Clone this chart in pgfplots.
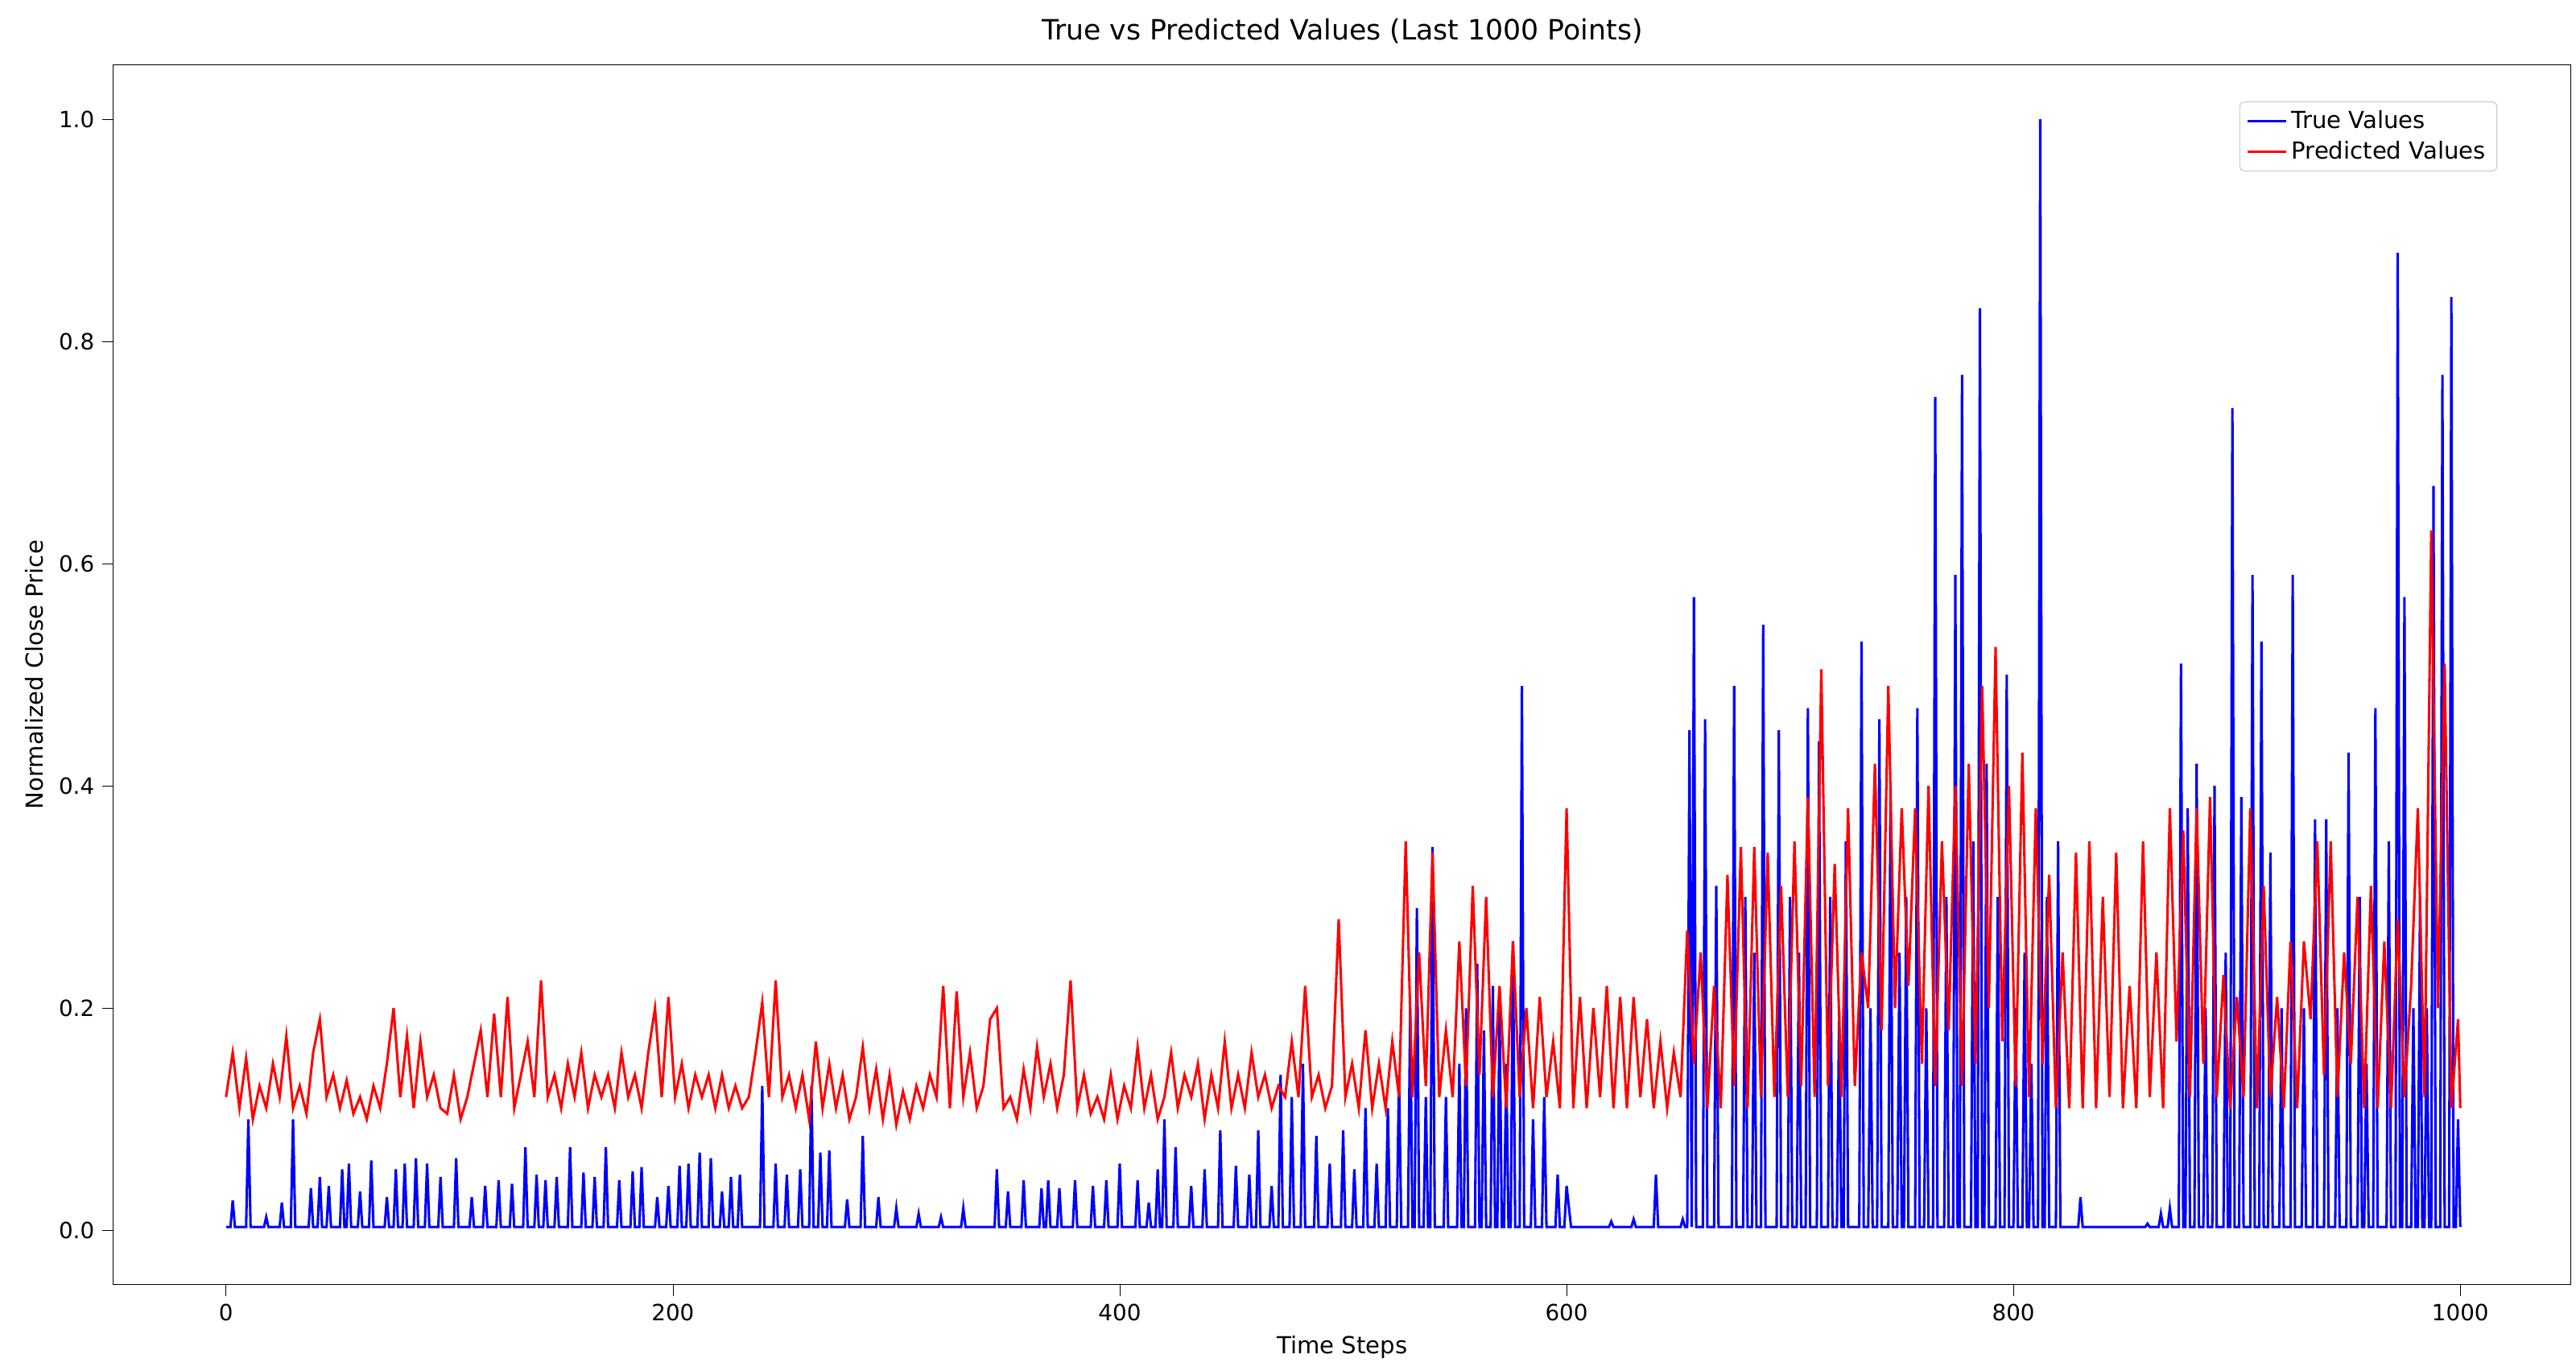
\documentclass[border={8pt 2pt 2pt 5pt}]{standalone}
\usepackage{pgfplots}
\pgfplotsset{compat=1.18}
\usepackage{fontspec}
\setmainfont{DejaVu Sans}
\begin{document}
\begin{tikzpicture}
\begin{axis}[
 width=1100pt, height=546pt, scale only axis,
 xmin=-50.4, xmax=1049.6, ymin=-0.049, ymax=1.049,
 xtick={0,200,400,600,800,1000},
 ytick={0,0.2,0.4,0.6,0.8,1.0},
 xticklabel style={/pgf/number format/1000 sep={}},
 yticklabel style={/pgf/number format/.cd,fixed,fixed zerofill,precision=1},
 /pgf/number format/assume math mode=true,
 tick align=outside, tick style={black}, major tick length=5pt,
 xtick pos=bottom, ytick pos=left,
 ticklabel style={font=\fontsize{10}{12}\selectfont},
 title={True vs Predicted Values (Last 1000 Points)},
 title style={font=\fontsize{12.5}{14}\selectfont},
 xlabel={Time Steps}, ylabel={Normalized Close Price},
 label style={font=\fontsize{10.5}{12}\selectfont},
 legend pos=north east,
 legend style={font=\fontsize{10.5}{12}\selectfont, draw=black!20, rounded corners=2pt},
 legend cell align=left,
]
\addplot[blue, line width=1.1pt] coordinates {
(0,.003)
(2,.003)(3,.027)(4,.003)(9,.003)(10,.10)(11,.003)(17,.003)(18,.012)(19,.003)(24,.003)(25,.025)(26,.003)
(29,.003)(30,.10)(31,.003)(37,.003)(38,.038)(39,.003)(41,.003)(42,.048)(43,.003)(45,.003)(46,.04)(47,.003)
(51,.003)(52,.055)(53,.003)(54,.003)(55,.06)(56,.003)(59,.003)(60,.035)(61,.003)(64,.003)(65,.063)(66,.003)
(71,.003)(72,.03)(73,.003)(75,.003)(76,.055)(77,.003)(79,.003)(80,.06)(81,.003)(84,.003)(85,.065)(86,.003)
(89,.003)(90,.06)(91,.003)(95,.003)(96,.048)(97,.003)(102,.003)(103,.065)(104,.003)(109,.003)(110,.03)(111,.003)
(115,.003)(116,.04)(117,.003)(121,.003)(122,.045)(123,.003)(127,.003)(128,.042)(129,.003)(133,.003)(134,.075)(135,.003)
(138,.003)(139,.05)(140,.003)(142,.003)(143,.045)(144,.003)(147,.003)(148,.048)(149,.003)(153,.003)(154,.075)(155,.003)
(159,.003)(160,.052)(161,.003)(164,.003)(165,.048)(166,.003)(169,.003)(170,.075)(171,.003)(175,.003)(176,.045)(177,.003)
(181,.003)(182,.053)(183,.003)(185,.003)(186,.057)(187,.003)(192,.003)(193,.03)(194,.003)(197,.003)(198,.04)(199,.003)
(202,.003)(203,.058)(204,.003)(206,.003)(207,.06)(208,.003)(211,.003)(212,.07)(213,.003)(216,.003)(217,.065)(218,.003)
(221,.003)(222,.035)(223,.003)(225,.003)(226,.048)(227,.003)(229,.003)(230,.05)(231,.003)(239,.003)(240,.13)(241,.003)
(245,.003)(246,.06)(247,.003)(250,.003)(251,.05)(252,.003)(256,.003)(257,.055)(258,.003)(261,.003)(262,.13)(263,.003)
(265,.003)(266,.07)(267,.003)(269,.003)(270,.072)(271,.003)(277,.003)(278,.028)(279,.003)(284,.003)(285,.085)(286,.003)
(291,.003)(292,.03)(293,.003)(299,.003)(300,.02)(301,.003)(309,.003)(310,.015)(311,.003)(319,.003)(320,.012)(321,.003)
(329,.003)(330,.02)(331,.003)(344,.003)(345,.055)(346,.003)(349,.003)(350,.035)(351,.003)(356,.003)(357,.045)(358,.003)
(364,.003)(365,.038)(366,.003)(367,.003)(368,.045)(369,.003)(372,.003)(373,.038)(374,.003)(379,.003)(380,.045)(381,.003)
(387,.003)(388,.04)(389,.003)(393,.003)(394,.045)(395,.003)(399,.003)(400,.06)(401,.003)(407,.003)(408,.045)(409,.003)
(412,.003)(413,.025)(414,.003)(416,.003)(417,.055)(418,.003)(419,.003)(420,.10)(421,.003)(424,.003)(425,.075)(426,.003)
(431,.003)(432,.04)(433,.003)(437,.003)(438,.055)(439,.003)(444,.003)(445,.09)(446,.003)(451,.003)(452,.058)(453,.003)
(457,.003)(458,.05)(459,.003)(461,.003)(462,.09)(463,.003)(467,.003)(468,.04)(469,.003)(471,.003)(472,.14)(473,.003)
(476,.003)(477,.12)(478,.003)(481,.003)(482,.15)(483,.003)(487,.003)(488,.085)(489,.003)(493,.003)(494,.06)(495,.003)
(499,.003)(500,.09)(501,.003)(504,.003)(505,.055)(506,.003)(509,.003)(510,.11)(511,.003)(514,.003)(515,.06)(516,.003)
(519,.003)(520,.11)(521,.003)(524,.003)(525,.14)(526,.003)(529,.003)(530,.20)(531,.003)(532,.003)(533,.29)(534,.003)
(536,.003)(537,.12)(538,.003)(539,.003)(540,.345)(541,.003)(545,.003)(546,.12)(547,.003)(551,.003)(552,.15)(553,.003)
(554,.003)(555,.20)(556,.003)(559,.003)(560,.24)(561,.003)(562,.003)(563,.18)(564,.003)(566,.003)(567,.22)(568,.003)
(569,.003)(570,.20)(571,.003)(572,.003)(573,.15)(574,.003)(575,.003)(576,.26)(577,.003)(579,.003)(580,.49)(581,.003)
(584,.003)(585,.10)(586,.003)(589,.003)(590,.12)(591,.003)(595,.003)(596,.05)(597,.003)(599,.003)(600,.04)(602,.003)
(619,.003)(620,.008)(621,.003)(629,.003)(630,.01)(631,.003)(639,.003)(640,.05)(641,.003)(651,.003)(652,.01)(653,.003)
(654,.003)(655,.45)(656,.003)(657,.57)(658,.003)(661,.003)(662,.46)(663,.003)(666,.003)(667,.31)(668,.003)
(674,.003)(675,.49)(676,.003)(679,.003)(680,.30)(681,.003)(683,.003)(684,.25)(685,.003)(687,.003)(688,.545)(689,.003)
(694,.003)(695,.45)(696,.003)(699,.003)(700,.30)(701,.003)(703,.003)(704,.25)(705,.003)(707,.003)(708,.47)(709,.003)
(712,.003)(713,.44)(714,.003)(717,.003)(718,.30)(719,.003)(721,.003)(722,.20)(723,.003)(724,.003)(725,.35)(726,.003)
(731,.003)(732,.53)(733,.003)(735,.003)(736,.20)(737,.003)(739,.003)(740,.46)(741,.003)(744,.003)(745,.40)(746,.003)
(748,.003)(749,.25)(750,.003)(751,.003)(752,.30)(753,.003)(756,.003)(757,.47)(758,.003)(760,.003)(761,.20)(762,.003)
(764,.003)(765,.75)(766,.003)(769,.003)(770,.30)(771,.003)(773,.003)(774,.59)(775,.003)(776,.003)(777,.77)(778,.003)
(781,.003)(782,.35)(783,.003)(784,.003)(785,.83)(786,.003)(787,.003)(788,.42)(789,.003)(792,.003)(793,.30)(794,.003)
(796,.003)(797,.50)(798,.003)(800,.003)(801,.20)(802,.003)(804,.003)(805,.25)(806,.003)(807,.003)(808,.15)(809,.003)
(811,.003)(812,1.0)(813,.003)(814,.003)(815,.30)(816,.003)(819,.003)(820,.35)(821,.003)(829,.003)(830,.03)(831,.003)
(859,.003)(860,.006)(861,.003)(865,.003)(866,.015)(867,.003)(869,.003)(870,.02)(871,.003)
(874,.003)(875,.51)(876,.003)(877,.003)(878,.38)(879,.003)(881,.003)(882,.42)(883,.003)(885,.003)(886,.20)(887,.003)
(889,.003)(890,.40)(891,.003)(894,.003)(895,.25)(896,.003)(897,.003)(898,.74)(899,.003)(901,.003)(902,.39)(903,.003)
(906,.003)(907,.59)(908,.003)(910,.003)(911,.53)(912,.003)(914,.003)(915,.34)(916,.003)(919,.003)(920,.20)(921,.003)
(924,.003)(925,.59)(926,.003)(929,.003)(930,.20)(931,.003)(934,.003)(935,.37)(936,.003)(939,.003)(940,.37)(941,.003)
(944,.003)(945,.20)(946,.003)(949,.003)(950,.43)(951,.003)(954,.003)(955,.30)(956,.003)(957,.003)(958,.15)(959,.003)
(961,.003)(962,.47)(963,.003)(967,.003)(968,.35)(969,.003)(971,.003)(972,.88)(973,.003)(974,.003)(975,.57)(976,.003)
(978,.003)(979,.20)(980,.003)(981,.003)(982,.30)(983,.003)(984,.003)(985,.20)(986,.003)(987,.003)(988,.67)(989,.003)
(991,.003)(992,.77)(993,.003)(995,.003)(996,.84)(997,.003)(998,.003)(999,.10)(1000,.003)
};
\addlegendentry{True Values}
\addplot[red, line width=1.1pt] coordinates {
(0,.12)(3,.16)(6,.11)(9,.155)(12,.10)(15,.13)(18,.11)(21,.15)(24,.12)(27,.175)(30,.11)(33,.13)(36,.105)(39,.16)(42,.19)(45,.12)(48,.14)(51,.11)(54,.135)(57,.105)(60,.12)(63,.10)(66,.13)(69,.11)(72,.15)(75,.20)(78,.12)(81,.175)(84,.11)(87,.17)(90,.12)(93,.14)(96,.11)(99,.105)(102,.14)(105,.10)(108,.12)(111,.15)(114,.18)(117,.12)(120,.195)(123,.12)(126,.21)(129,.11)(132,.14)(135,.17)(138,.12)(141,.225)(144,.12)(147,.14)(150,.11)(153,.15)(156,.12)(159,.16)(162,.11)(165,.14)(168,.12)(171,.14)(174,.11)(177,.16)(180,.12)(183,.14)(186,.11)(189,.16)(192,.20)(195,.12)(198,.21)(201,.12)(204,.15)(207,.11)(210,.14)(213,.12)(216,.14)(219,.11)(222,.14)(225,.11)(228,.13)(231,.11)(234,.12)(237,.16)(240,.205)(243,.12)(246,.225)(249,.12)(252,.14)(255,.11)(258,.14)(261,.10)(264,.17)(267,.11)(270,.15)(273,.11)(276,.14)(279,.10)(282,.12)(285,.165)(288,.11)(291,.145)(294,.10)(297,.14)(300,.095)(303,.125)(306,.10)(309,.13)(312,.11)(315,.14)(318,.12)(321,.22)(324,.11)(327,.215)(330,.12)(333,.16)(336,.11)(339,.13)(342,.19)(345,.20)(348,.11)(351,.12)(354,.10)(357,.145)(360,.11)(363,.165)(366,.12)(369,.15)(372,.11)(375,.14)(378,.225)(381,.11)(384,.14)(387,.105)(390,.12)(393,.10)(396,.14)(399,.10)(402,.13)(405,.11)(408,.165)(411,.11)(414,.14)(417,.10)(420,.12)(423,.16)(426,.11)(429,.14)(432,.12)(435,.15)(438,.10)(441,.14)(444,.11)(447,.17)(450,.11)(453,.14)(456,.11)(459,.16)(462,.12)(465,.14)(468,.11)(471,.13)(474,.12)(477,.17)(480,.12)(483,.22)(486,.12)(489,.14)(492,.11)(495,.13)(498,.28)(501,.12)(504,.15)(507,.11)(510,.18)(513,.11)(516,.15)(519,.11)(522,.17)(525,.12)(528,.35)(531,.12)(534,.25)(537,.13)(540,.34)(543,.12)(546,.18)(549,.12)(552,.26)(555,.13)(558,.31)(561,.14)(564,.30)(567,.12)(570,.22)(573,.11)(576,.26)(579,.12)(582,.20)(585,.11)(588,.21)(591,.12)(594,.17)(597,.11)(600,.38)(603,.11)(606,.21)(609,.11)(612,.20)(615,.12)(618,.22)(621,.11)(624,.21)(627,.11)(630,.21)(633,.12)(636,.19)(639,.11)(642,.17)(645,.11)(648,.16)(651,.12)(654,.27)(657,.15)(660,.25)(663,.11)(666,.22)(669,.11)(672,.32)(675,.13)(678,.345)(681,.11)(684,.345)(687,.12)(690,.34)(693,.12)(696,.31)(699,.12)(702,.35)(705,.13)(708,.39)(711,.12)(714,.505)(717,.13)(720,.33)(723,.12)(726,.38)(729,.13)(732,.25)(735,.20)(738,.42)(741,.18)(744,.49)(747,.20)(750,.38)(753,.22)(756,.38)(759,.15)(762,.40)(765,.13)(768,.35)(771,.18)(774,.40)(777,.13)(780,.42)(783,.15)(786,.49)(789,.20)(792,.525)(795,.17)(798,.40)(801,.13)(804,.43)(807,.12)(810,.38)(813,.15)(816,.32)(819,.11)(822,.25)(825,.11)(828,.34)(831,.11)(834,.35)(837,.11)(840,.30)(843,.12)(846,.34)(849,.11)(852,.22)(855,.11)(858,.35)(861,.12)(864,.25)(867,.11)(870,.38)(873,.17)(876,.36)(879,.12)(882,.38)(885,.15)(888,.39)(891,.12)(894,.23)(897,.11)(900,.21)(903,.12)(906,.38)(909,.11)(912,.31)(915,.12)(918,.21)(921,.11)(924,.26)(927,.11)(930,.26)(933,.19)(936,.35)(939,.14)(942,.35)(945,.12)(948,.25)(951,.15)(954,.30)(957,.11)(960,.31)(963,.11)(966,.26)(969,.11)(972,.28)(975,.12)(978,.22)(981,.38)(984,.12)(987,.63)(990,.20)(993,.51)(996,.11)(999,.19)(1000,.11)
};
\addlegendentry{Predicted Values}
\end{axis}
\end{tikzpicture}
\end{document}
